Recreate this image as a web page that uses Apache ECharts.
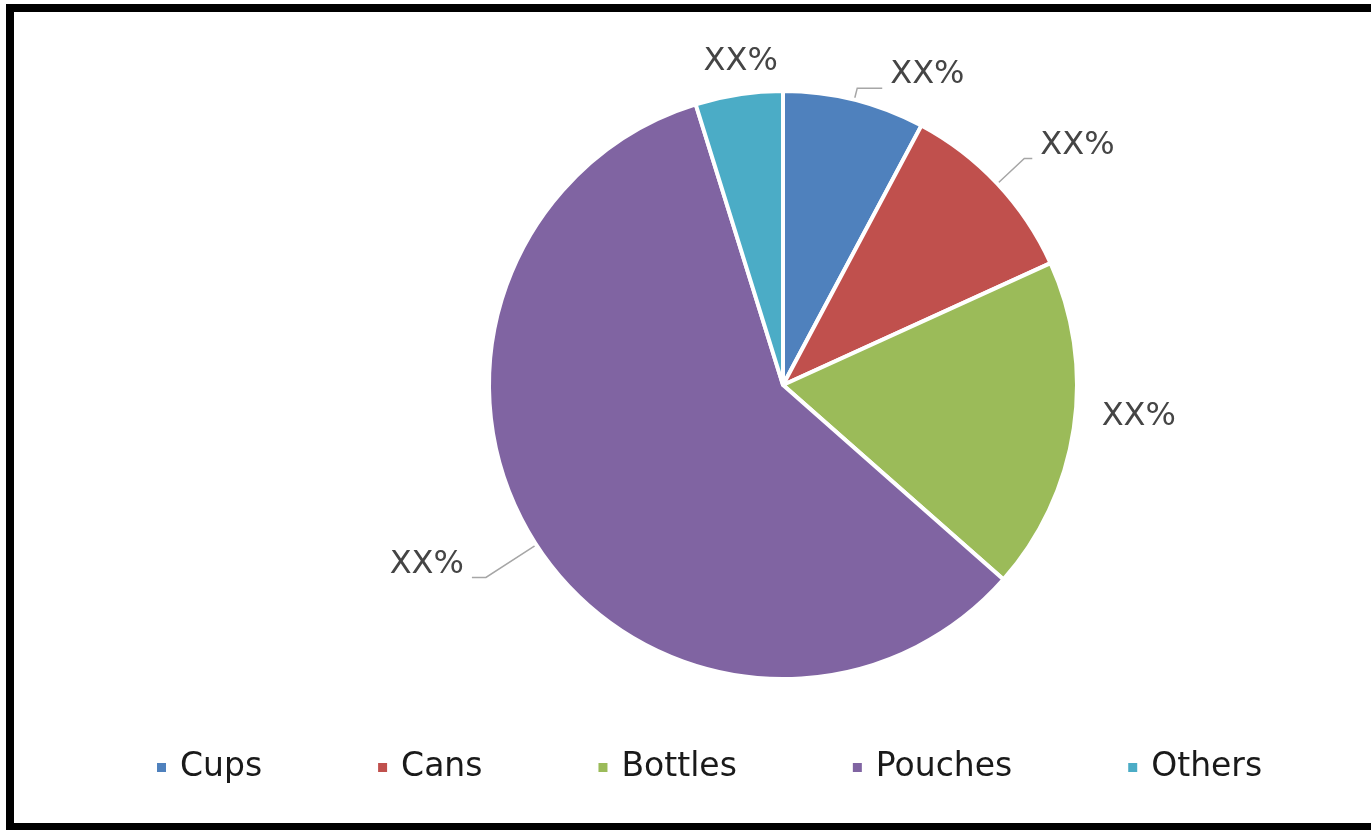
<!DOCTYPE html>
<html>
<head>
<meta charset="utf-8">
<script src="https://cdn.jsdelivr.net/npm/echarts@6/dist/echarts.min.js"></script>
<style>
html,body{margin:0;padding:0;background:#fff;}
#frame{position:absolute;left:6px;top:4px;width:1365px;height:826px;border-left:8px solid #000;border-top:8px solid #000;border-bottom:7px solid #000;box-sizing:border-box;}
#main{position:absolute;left:0;top:0;width:1371px;height:837px;}
</style>
</head>
<body>
<div id="main"></div>
<div id="frame"></div>
<script>
// 数据
var categories = ['Cups', 'Cans', 'Bottles', 'Pouches', 'Others'];
var shares = [7.8, 10.4, 18.3, 58.7, 4.8];
var labelTexts = ['XX%', 'XX%', 'XX%', 'XX%', 'XX%'];
var colors = ['#4f81bd', '#c0504d', '#9bbb59', '#8064a2', '#4bacc6'];

// leader line [length, length2, shown]
var leaders = [[12, 25, true], [37, 8, true], [12, 8, false], [60, 14, true], [20, 0, false]];

var chart = echarts.init(document.getElementById('main'));
var pieData = [];
for (var a = 0; a < categories.length; a++) {
	pieData.push({
		name: categories[a],
		value: shares[a],
		txt: labelTexts[a],
		labelLine: {show: leaders[a][2], length: leaders[a][0], length2: leaders[a][1]}
	});
}

var option = {
	color: colors,
	animation: false,
	legend: {
		top: 746,
		left: 150,
		itemWidth: 11,
		itemHeight: 11,
		itemGap: 114,
		icon: 'rect',
		textStyle: {fontFamily: 'DejaVu Sans', fontSize: 33, color: '#1a1a1a', padding: [0, 0, 0, 8]},
		data: categories
	},
	series: [{
		type: 'pie',
		center: [783, 385],
		radius: [0, 294],
		startAngle: 90,
		clockwise: true,
		itemStyle: {borderColor: '#fff', borderWidth: 4},
		label: {
			show: true,
			position: 'outside',
			// 空的第二行把文字抬到引线上方
			formatter: function(p){ return p.data.txt + '\n'; },
			fontFamily: 'DejaVu Sans',
			fontSize: 32,
			lineHeight: 26,
			color: '#454545',
			distanceToLabelLine: 8
		},
		labelLine: {show: true, lineStyle: {color: '#a6a6a6', width: 1.5}},
		labelLayout: function(p){
			if (p.dataIndex == 4) return {dx: 50};
			return {};
		},
		data: pieData
	}]
};
chart.setOption(option);
</script>
</body>
</html>
